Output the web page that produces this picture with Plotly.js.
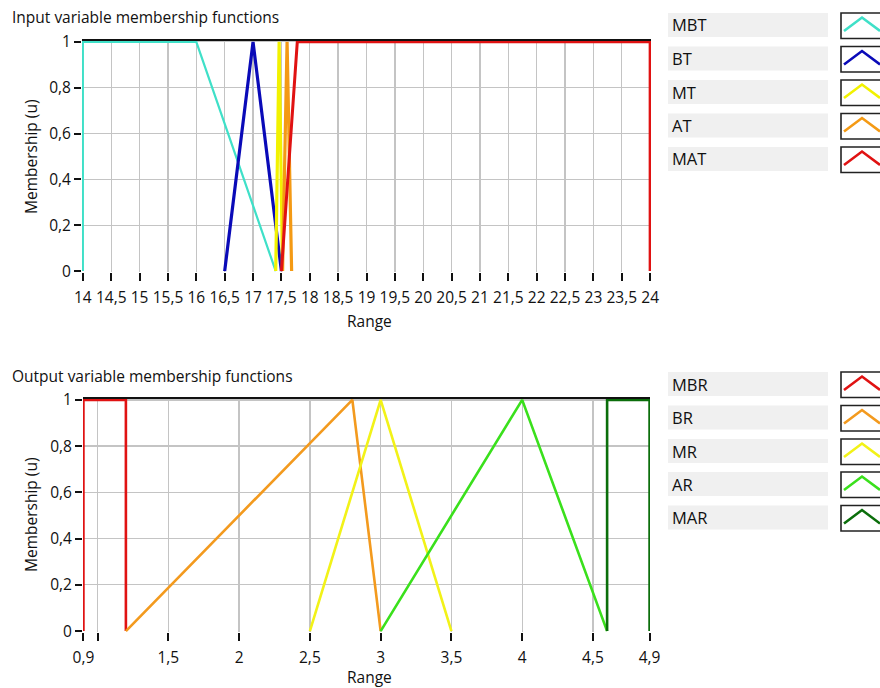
<!DOCTYPE html>
<html>
<head>
<meta charset="utf-8">
<script src="https://cdn.plot.ly/plotly-3.0.1.min.js"></script>
<style>
  html, body { margin: 0; padding: 0; background: #ffffff; }
  #chart { width: 880px; height: 688px; }
</style>
</head>
<body>
<div id="chart"></div>
<script>
// ---- Input variable (temperature) membership functions ----
const inputNames  = ['MBT', 'BT', 'MT', 'AT', 'MAT'];
const inputColors = ['#3fe0c8', '#0a0ab8', '#f2f200', '#f49a14', '#e01212'];
const mbtX = [14, 14, 16, 17.4];        const mbtY = [0, 1, 1, 0];
const btX  = [16.5, 17, 17.5];          const btY  = [0, 1, 0];
const mtX  = [17.4, 17.46, 17.52];      const mtY  = [0, 1, 0];
const atX  = [17.52, 17.6, 17.68];      const atY  = [0, 1, 0];
const matX = [17.5, 17.78, 24, 24];     const matY = [0, 1, 1, 0];

// ---- Output variable membership functions ----
const outputNames  = ['MBR', 'BR', 'MR', 'AR', 'MAR'];
const outputColors = ['#e01212', '#f39a1e', '#f2f218', '#3ae01c', '#0b6e0b'];
const mbrX = [0.9, 0.9, 1.2, 1.2];      const mbrY = [0, 1, 1, 0];
const brX  = [1.2, 2.8, 3];             const brY  = [0, 1, 0];
const mrX  = [2.5, 3, 3.5];             const mrY  = [0, 1, 0];
const arX  = [3, 4, 4.6];               const arY  = [0, 1, 0];
const marX = [4.6, 4.6, 4.9, 4.9];      const marY = [0, 1, 1, 0];

// ---- Axis ticks ----
const inTickVals  = [14, 14.5, 15, 15.5, 16, 16.5, 17, 17.5, 18, 18.5, 19, 19.5, 20, 20.5, 21, 21.5, 22, 22.5, 23, 23.5, 24];
const inTickText  = ['14', '14,5', '15', '15,5', '16', '16,5', '17', '17,5', '18', '18,5', '19', '19,5', '20', '20,5', '21', '21,5', '22', '22,5', '23', '23,5', '24'];
const outTickVals = [0.9, 1, 1.5, 2, 2.5, 3, 3.5, 4, 4.5, 4.9];
const outTickText = ['0,9', '', '1,5', '2', '2,5', '3', '3,5', '4', '4,5', '4,9'];
const yTickVals   = [0, 0.2, 0.4, 0.6, 0.8, 1];
const yTickText   = ['0', '0,2', '0,4', '0,6', '0,8', '1'];

// pixel -> paper helpers (margins are zero, so paper spans the whole page)
const W = 880, H = 688;
const px = v => v / W;
const py = v => 1 - v / H;

const FONT = 'Open Sans, sans-serif';
const TXT = '#111111';

function series(x, y, name, color, width, axis) {
  return {
    type: 'scatter', mode: 'lines', x: x, y: y, name: name,
    xaxis: axis[0], yaxis: axis[1],
    line: { color: color, width: width },
    hoverinfo: 'x+y+name', showlegend: false
  };
}

const inSeries  = [[mbtX, mbtY], [btX, btY], [mtX, mtY], [atX, atY], [matX, matY]];
const outSeries = [[mbrX, mbrY], [brX, brY], [mrX, mrY], [arX, arY], [marX, marY]];
const inWidths  = [2.2, 3.2, 3.2, 3.2, 3];

const data = [];
inSeries.forEach((s, i) => data.push(series(s[0], s[1], inputNames[i], inputColors[i], inWidths[i], ['x', 'y'])));
outSeries.forEach((s, i) => data.push(series(s[0], s[1], outputNames[i], outputColors[i], 2.6, ['x2', 'y2'])));

const gridColor = '#c4c4c4';
function xAxis(domain, range, vals, text, anchor) {
  return {
    domain: domain, range: range, anchor: anchor,
    tickmode: 'array', tickvals: vals, ticktext: text,
    ticks: 'outside', ticklen: 8, tickwidth: 2, tickcolor: '#111',
    ticklabelstandoff: 3,
    showgrid: true, gridcolor: gridColor, gridwidth: 1.3,
    zeroline: false, showline: false,
    tickfont: { family: FONT, size: 15.5, color: TXT },
    fixedrange: true
  };
}
function yAxis(domain, anchor) {
  return {
    domain: domain, range: [-0.004, 1.008], anchor: anchor,
    tickmode: 'array', tickvals: yTickVals, ticktext: yTickText,
    ticks: 'outside', ticklen: 7, tickwidth: 2, tickcolor: '#111',
    showgrid: true, gridcolor: gridColor, gridwidth: 1.3,
    zeroline: false, showline: false,
    tickfont: { family: FONT, size: 15.5, color: TXT },
    fixedrange: true
  };
}

const shapes = [];
const annotations = [];

// black frame edge across the top of each plot
[[82, 651, 40], [83, 650, 398]].forEach(r => {
  shapes.push({ type: 'line', xref: 'paper', yref: 'paper',
    x0: px(r[0]), x1: px(r[1]), y0: py(r[2]), y1: py(r[2]),
    line: { color: '#111', width: 2 } });
});

// legend panels: grey name boxes plus framed line swatches
function legendPanel(names, colors, tops) {
  names.forEach((n, i) => {
    const t = tops[i];
    shapes.push({ type: 'rect', xref: 'paper', yref: 'paper',
      x0: px(668), x1: px(828), y0: py(t + 24), y1: py(t),
      fillcolor: '#f0f0f0', line: { width: 0 }, layer: 'below' });
    shapes.push({ type: 'rect', xref: 'paper', yref: 'paper',
      x0: px(841), x1: px(895), y0: py(t + 25.5), y1: py(t),
      fillcolor: '#ffffff', line: { color: '#222', width: 1.6 } });
    shapes.push({ type: 'path', xref: 'paper', yref: 'paper',
      path: `M ${px(844)} ${py(t + 18)} L ${px(862)} ${py(t + 4.5)} L ${px(880)} ${py(t + 18)}`,
      line: { color: colors[i], width: 2.6 } });
    annotations.push({ xref: 'paper', yref: 'paper', x: px(670), y: py(t + 12),
      xanchor: 'left', yanchor: 'middle', showarrow: false, text: n,
      font: { family: FONT, size: 16.5, color: TXT } });
  });
}
legendPanel(inputNames, inputColors, [13, 46.5, 80, 113.5, 147]);
legendPanel(outputNames, outputColors, [372, 405.5, 439, 472, 505.5]);

// chart and axis titles
function label(text, x, y, opts) {
  annotations.push(Object.assign({ xref: 'paper', yref: 'paper', x: px(x), y: py(y),
    showarrow: false, text: text,
    font: { family: FONT, size: 15.5, color: TXT } }, opts || {}));
}
label('Input variable membership functions', 10, 17, { xanchor: 'left', yanchor: 'middle' });
label('Output variable membership functions', 10, 376, { xanchor: 'left', yanchor: 'middle' });
label('Range', 369, 321, { xanchor: 'center', yanchor: 'middle' });
label('Range', 369, 677, { xanchor: 'center', yanchor: 'middle' });
label('Membership (u)', 31, 157, { xanchor: 'center', yanchor: 'middle', textangle: -90 });
label('Membership (u)', 31, 515, { xanchor: 'center', yanchor: 'middle', textangle: -90 });

const layout = {
  width: W, height: H,
  margin: { l: 0, r: 0, t: 0, b: 0, pad: 0 },
  paper_bgcolor: '#ffffff', plot_bgcolor: '#ffffff',
  showlegend: false,
  xaxis:  xAxis([px(82), px(651)], [13.985, 24.015], inTickVals, inTickText, 'y'),
  yaxis:  yAxis([py(272), py(40)], 'x'),
  xaxis2: xAxis([px(83), px(650)], [0.897, 4.903], outTickVals, outTickText, 'y2'),
  yaxis2: yAxis([py(632), py(398)], 'x2'),
  shapes: shapes,
  annotations: annotations
};

Plotly.newPlot('chart', data, layout, { displayModeBar: false, staticPlot: true });
</script>
</body>
</html>
